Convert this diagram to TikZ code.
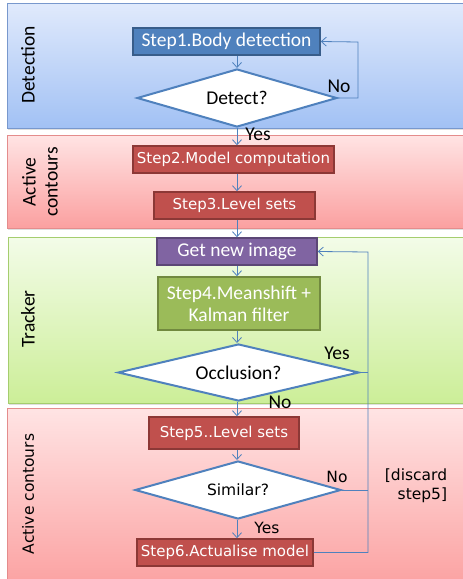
\documentclass[tikz,border=0pt]{standalone}
\usepackage{fontspec}
\setmainfont{Carlito}
\newfontfamily\dvs{DejaVu Sans}
\usetikzlibrary{arrows.meta,shapes.geometric,shadows}

% band colours
\definecolor{bluetop}{RGB}{224,234,252}
\definecolor{bluebot}{RGB}{162,193,244}
\definecolor{blueedge}{RGB}{120,152,205}
\definecolor{redtop}{RGB}{255,228,228}
\definecolor{redbot}{RGB}{251,160,160}
\definecolor{rededge}{RGB}{228,140,140}
\definecolor{greentop}{RGB}{243,252,232}
\definecolor{greenbot}{RGB}{204,238,152}
\definecolor{greenedge}{RGB}{165,205,110}
% box colours
\definecolor{bfill}{RGB}{79,129,189}
\definecolor{bedge}{RGB}{56,93,138}
\definecolor{rfill}{RGB}{192,80,77}
\definecolor{redge}{RGB}{140,56,54}
\definecolor{pfill}{RGB}{128,100,162}
\definecolor{pedge}{RGB}{92,71,118}
\definecolor{gfill}{RGB}{155,187,89}
\definecolor{gedge}{RGB}{113,137,63}
\definecolor{flow}{RGB}{79,129,189}

\tikzset{
  band/.style={draw=#1, line width=0.8pt,
    drop shadow={opacity=0.25, shadow xshift=1pt, shadow yshift=-1.5pt}},
  stepbox/.style={rectangle, draw=#1, line width=1.5pt, text=white,
    inner sep=0pt, align=center},
  cal/.style={font=\fontsize{19.5}{22}\selectfont},
  dv/.style={font=\dvs\fontsize{15}{19}\selectfont},
  dvl/.style={font=\dvs\fontsize{15.5}{19}\selectfont},
  decision/.style={diamond, draw=flow, line width=2pt, fill=white,
    inner sep=0pt, text=black},
  arr/.style={draw=flow, line width=0.8pt, -{Straight Barb[length=5pt,width=9pt]}},
  link/.style={draw=flow, line width=0.8pt},
  lab/.style={text=black, inner sep=0pt},
}

\begin{document}
\begin{tikzpicture}[x=1pt, y=-1pt]
\useasboundingbox (0,0) rectangle (463,579);

% swim-lane bands
\shade[band=blueedge, top color=bluetop, bottom color=bluebot]
  (7,3) rectangle (475,128);
\shade[band=rededge, top color=redtop, bottom color=redbot]
  (7,135) rectangle (475,228);
\shade[band=greenedge, top color=greentop, bottom color=greenbot]
  (8,237) rectangle (475,403);
\shade[band=rededge, top color=redtop, bottom color=redbot]
  (7,408) rectangle (475,590);

% lane titles
\node[lab, cal, rotate=90] (tDet) at (28,65) {Detection};
\node[lab, cal, rotate=90, align=center] (tAc1) at (40,182) {Active\\contours};
\node[lab, cal, rotate=90] (tTrk) at (28,319) {Tracker};
\node[lab, dvl, rotate=90] (tAc2) at (28,494) {Active contours};

% process steps
\node[stepbox=bedge, fill=bfill, cal, minimum width=187pt, minimum height=27pt]
  (s1) at (226.5,41.5) {Step1.Body detection};
\node[decision, cal, shape aspect=3.45, minimum width=200pt, minimum height=58pt]
  (det) at (237,98) {Detect?};
\node[stepbox=redge, fill=rfill, dv, minimum width=201pt, minimum height=27pt]
  (s2) at (233.5,159.5) {Step2.Model computation};
\node[stepbox=redge, fill=rfill, dv, minimum width=161pt, minimum height=27pt]
  (s3) at (234.5,205.5) {Step3.Level sets};
\node[stepbox=pedge, fill=pfill, cal, minimum width=160pt, minimum height=27pt]
  (gni) at (237,251.5) {Get new image};
\node[stepbox=gedge, fill=gfill, cal, minimum width=162pt, minimum height=53pt]
  (s4) at (239,303.5) {Step4.Meanshift +\\Kalman filter};
\node[decision, cal, shape aspect=4.23, minimum width=241pt, minimum height=57pt]
  (occ) at (238.5,372.5) {Occlusion?};
\node[stepbox=redge, fill=rfill, dv, minimum width=150pt, minimum height=32pt]
  (s5) at (224,433) {Step5..Level sets};
\node[decision, dvl, shape aspect=3.55, minimum width=206pt, minimum height=58pt]
  (sim) at (238,490) {Similar?};
\node[stepbox=redge, fill=rfill, dv, minimum width=176pt, minimum height=27pt]
  (s6) at (225,552.5) {Step6.Actualise model};

% turning points of the feedback loops
\coordinate (loopA) at (358,42);
\coordinate (loopB) at (368,252);

% main flow
\draw[arr] (s1.south -| det.north) -- (det.north);
\draw[arr] (det.south) -- (det.south |- s2.north);
\draw[arr] (s2.south -| det.south) -- (s3.north -| det.south);
\draw[arr] (s3.south -| det.south) -- (gni.north -| det.south);
\draw[arr] (gni.south -| det.south) -- (s4.north -| det.south);
\draw[arr] (s4.south -| det.south) -- (occ.north -| det.south);
\draw[arr] (occ.south -| det.south) -- (s5.north -| det.south);
\draw[arr] (s5.south -| det.south) -- (sim.north -| det.south);
\draw[arr] (sim.south -| det.south) -- (s6.north -| det.south);

% feedback loops
\draw[arr] (det.east) -| (loopA) -- (s1.east);
\draw[arr] (s6.east) -| (loopB) -- (gni.east);
\draw[link] (occ.east) -- (occ.east -| loopB);
\draw[link] (sim.east) -- (sim.east -| loopB);

% branch labels
\node[lab, cal] (lNo1) at (339,86) {No};
\node[lab, cal] (lYes1) at (258,134) {Yes};
\node[lab, cal] (lYes2) at (337,353) {Yes};
\node[lab, cal] (lNo2) at (280,402) {No};
\node[lab, dvl] (lNo3) at (337,477) {No};
\node[lab, dvl] (lYes3) at (267,528) {Yes};
\node[lab, dvl, align=right] (lDisc) at (416,486) {[discard\\step5]};
\end{tikzpicture}
\end{document}
